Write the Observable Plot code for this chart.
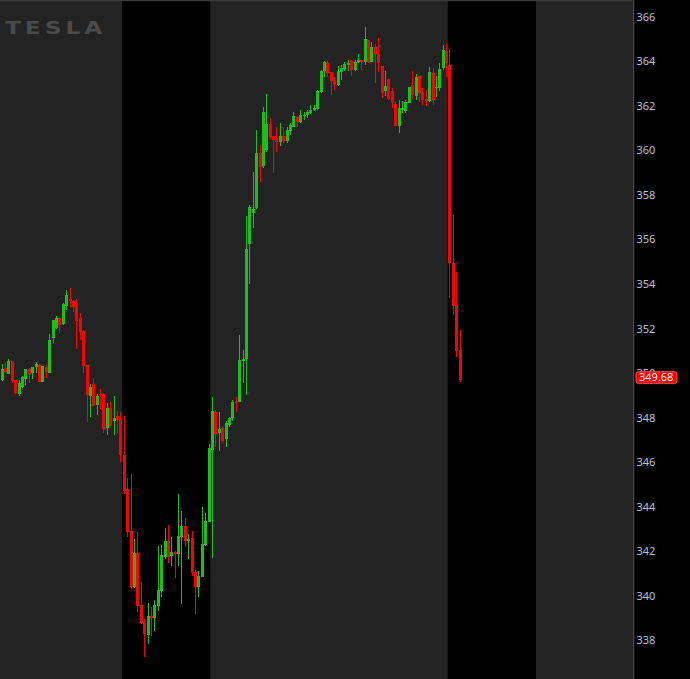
<!DOCTYPE html>
<html><head><meta charset="utf-8">
<script src="https://cdn.jsdelivr.net/npm/d3@7"></script>
<script src="https://cdn.jsdelivr.net/npm/@observablehq/plot@0.6"></script>
<style>
html,body{margin:0;padding:0;background:#000;}
#wrap{position:relative;width:690px;height:679px;overflow:hidden;background:#000;}
#wrap svg{display:block;}
#logo{position:absolute;left:5px;top:19px;font:bold 18px/18px "DejaVu Sans",sans-serif;letter-spacing:3px;color:#4a4a4a;pointer-events:none;transform:scaleX(1.3);transform-origin:0 0;}
</style></head><body><div id="wrap"><div id="logo">TESLA</div></div>
<script>
const opens = [349.69,350.24,349.97,350.54,349.68,349.07,349.38,349.73,350.17,349.98,350.25,350.36,349.61,350.25,350.01,351.59,352.02,352.47,352.22,353.01,353.33,353.24,353.16,352.47,351.89,350.36,348.98,349.51,348.55,349.06,349.06,347.54,348.44,347.85,348.06,
347.89,346.31,344.79,342.90,340.40,341.91,339.57,338.78,338.22,339.08,338.99,339.54,340.21,341.74,342.45,341.79,341.97,341.88,342.64,343.12,342.46,342.58,341.07,340.40,340.85,342.27,343.32,346.54,348.26,347.30,347.53,347.03,347.66,347.98,348.76,
348.71,350.54,350.63,355.80,357.19,357.40,359.89,359.30,360.02,361.19,360.65,360.58,360.40,360.65,360.43,360.89,361.07,361.51,361.28,361.55,361.60,361.69,361.82,361.87,362.64,363.57,363.95,363.51,363.17,362.94,363.54,363.66,363.84,364.04,363.62,363.96,364.07,363.99,364.97,363.96,
364.64,364.34,363.80,362.69,363.20,362.67,362.09,361.11,361.82,361.79,362.15,362.94,362.45,363.35,362.60,362.30,362.21,363.50,362.80,362.80,363.69,364.47,363.84,354.93,353.06,351.03];
const highs = [350.40,350.51,350.63,350.56,349.70,349.68,349.86,350.20,350.21,350.27,350.49,350.40,350.31,350.36,351.74,352.40,352.56,352.49,353.16,353.73,353.82,353.26,353.33,352.70,351.93,350.38,349.51,349.78,349.06,349.28,349.08,348.65,348.70,348.97,348.29,
348.26,348.07,345.27,345.45,342.54,342.84,340.59,338.93,339.68,339.48,339.80,342.24,342.27,343.02,343.17,342.63,342.00,344.56,343.81,343.48,342.76,342.90,341.15,341.11,343.98,343.71,346.81,348.94,348.34,348.26,347.59,347.86,348.04,348.79,348.94,
351.71,351.03,357.07,357.55,359.05,360.92,360.25,361.96,362.54,361.46,360.65,361.06,361.24,361.01,361.06,361.24,361.73,361.51,361.82,361.73,361.82,362.05,362.05,362.72,363.62,364.04,364.07,363.51,363.29,363.80,363.84,363.99,364.07,364.07,364.07,364.34,364.07,365.56,364.97,364.89,
364.79,365.04,363.80,363.57,363.20,362.79,362.19,362.27,362.23,362.27,362.87,363.57,363.42,363.35,362.79,362.72,363.77,363.69,363.35,363.92,364.74,364.79,364.56,357.10,354.55,351.93];
const lows = [349.65,350.03,349.95,349.56,349.07,348.98,349.31,349.47,349.56,349.74,350.01,349.61,349.60,349.79,350.00,351.36,351.98,351.81,352.14,352.83,352.98,352.76,351.08,351.48,350.01,347.81,348.04,348.52,348.13,348.40,347.32,347.23,347.62,347.23,347.30,
346.01,344.56,342.64,340.29,340.32,339.27,338.72,337.25,337.81,338.19,338.42,339.32,339.95,341.65,341.47,341.34,340.80,341.34,339.63,342.19,341.65,340.89,339.18,339.95,340.83,342.24,343.30,341.69,346.69,346.51,346.84,346.69,347.59,347.86,348.26,
348.71,349.56,349.01,354.00,356.53,357.37,358.60,359.23,359.95,360.50,359.00,359.95,360.22,360.32,360.35,360.70,361.07,361.07,361.25,361.37,361.47,361.64,361.79,361.82,362.60,363.29,363.29,362.49,362.72,362.91,363.17,363.59,363.57,363.36,363.59,363.92,363.62,363.84,363.92,363.96,
363.05,363.54,362.37,362.45,362.27,361.90,361.11,360.77,361.67,361.67,362.15,362.30,362.27,362.19,362.05,362.00,362.19,362.03,362.42,362.69,363.62,363.29,353.38,352.61,350.73,349.61];
const closes = [350.18,350.06,350.54,349.65,349.09,349.53,349.83,350.18,349.97,350.25,350.40,349.61,350.31,350.04,351.48,352.38,352.49,352.17,353.10,353.51,353.22,352.98,352.35,351.86,350.33,349.03,349.36,348.55,348.98,349.00,347.50,348.44,347.63,347.97,347.88,
346.31,344.71,342.87,340.40,341.91,339.54,338.75,338.28,339.08,338.99,339.57,340.25,341.82,342.45,341.74,341.94,341.88,342.67,343.12,342.46,342.55,341.03,340.40,340.89,342.31,343.35,346.63,348.29,347.26,347.48,346.96,347.77,347.99,348.71,348.66,
350.58,350.62,355.57,357.46,357.37,359.89,359.26,361.73,361.19,360.61,360.47,360.40,360.65,360.43,360.92,361.15,361.55,361.29,361.60,361.60,361.73,361.82,361.91,362.67,363.59,363.99,363.50,363.14,362.94,363.57,363.72,363.89,363.92,363.62,363.99,364.07,363.96,365.01,363.96,364.66,
364.34,363.95,362.60,362.90,362.30,362.12,361.11,361.90,361.92,362.19,362.84,362.49,363.30,362.57,362.27,362.21,363.53,362.27,362.87,363.65,364.52,363.95,354.93,353.02,351.00,349.68];

// regular-session bands, in bar numbers
const sessionStarts = [-0.5, 61.5, 157.5];
const sessionEnds = [35.5, 131.5, 186];
const yTicks = [338,340,342,344,346,348,350,352,354,356,358,360,362,364,366];
const lastPrice = "349.68";

const xDomain = [-0.5, 185.8];
const yDomain = [336.25, 366.76];
const GREEN = "#17c117", RED = "#ff0000";

const bars = opens.map((o, i) => ({i, o, h: highs[i], l: lows[i], c: closes[i]}));
const sessions = sessionStarts.map((s, k) => ({s, e: sessionEnds[k]}));
const col = d => d.c >= d.o ? GREEN : RED;

const chart = Plot.plot({
  width: 690, height: 679,
  marginLeft: 0, marginRight: 58, marginTop: 0, marginBottom: 0,
  style: {background: "#000", color: "#b9c3cf", fontFamily: "'Noto Sans', 'DejaVu Sans', sans-serif", fontSize: "11px"},
  x: {domain: xDomain, axis: null},
  y: {domain: yDomain, axis: "right", ticks: yTicks, tickSize: 0, tickPadding: 4, tickFormat: d => String(d), label: null},
  marks: [
    Plot.rect(sessions, {x1: "s", x2: "e", y1: yDomain[0], y2: yDomain[1], fill: "#232323"}),
    Plot.ruleY([yDomain[1]], {stroke: "#3a3a3a", strokeWidth: 1.5}),
    Plot.ruleX(bars, {x: "i", y1: "l", y2: "h", stroke: col, strokeWidth: 1, shapeRendering: "crispEdges"}),
    Plot.ruleX(bars, {x: "i", y1: "o", y2: "c", stroke: col, strokeWidth: 3, shapeRendering: "crispEdges"}),
    Plot.ruleX([xDomain[1]], {stroke: "#4a4a4a", strokeWidth: 1.5, dx: 1})
  ]
});

// last-price tag on the right axis
const yy = chart.scale("y").apply(+lastPrice);
const xr = 690 - 58 + 4;
const g = d3.select(chart).append("g").attr("text-anchor", "start");
g.append("rect").attr("x", xr).attr("y", yy - 8.5).attr("width", 41).attr("height", 12)
  .attr("rx", 2.5).attr("fill", "#ff0000").attr("stroke", "#ff6060").attr("stroke-width", 0.8);
g.append("text").attr("x", xr + 3).attr("y", yy - 2.5).attr("dy", "0.35em").attr("text-anchor", "start")
  .attr("fill", "#fff").attr("font-size", 11).attr("font-family", "'Noto Sans', sans-serif").text(lastPrice);

document.getElementById("wrap").appendChild(chart);
</script>
</body></html>
